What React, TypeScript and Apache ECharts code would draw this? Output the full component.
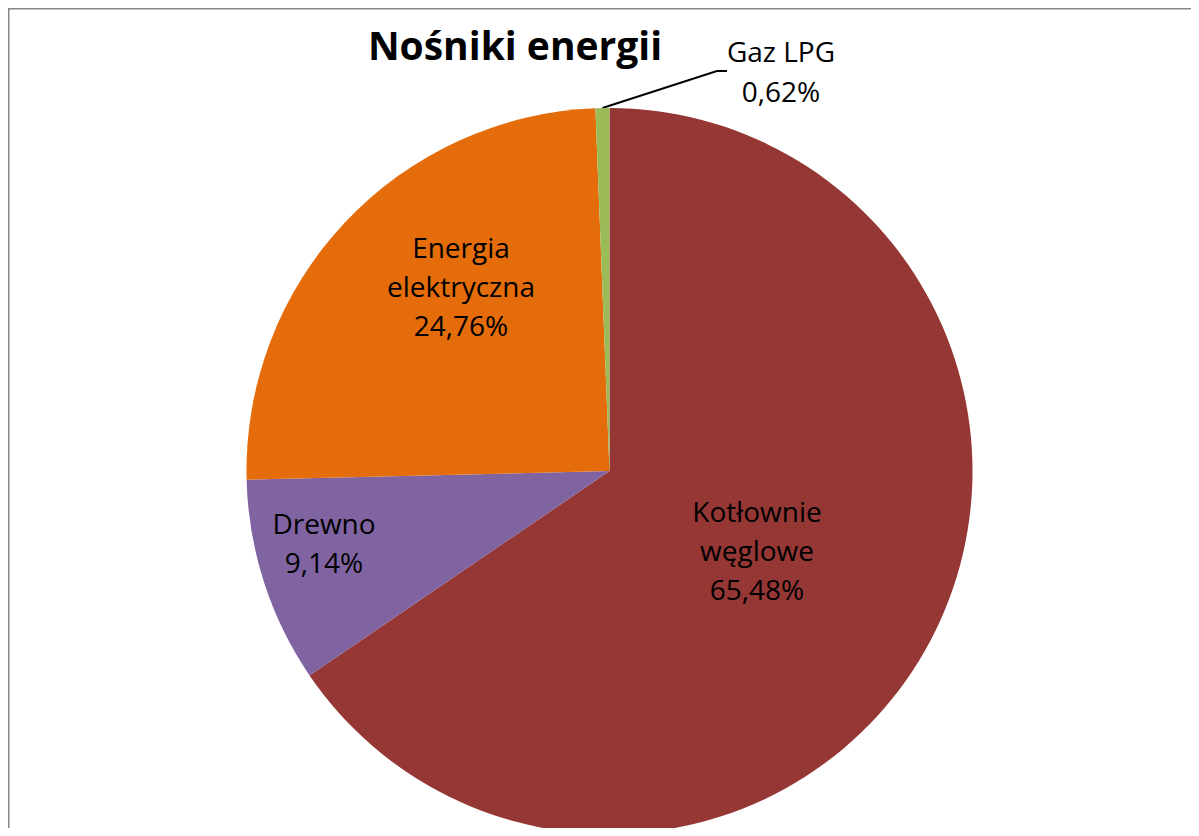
import React, { useEffect, useRef } from "react";
import * as echarts from "echarts";

const categories = ["Kotłownie\nwęglowe", "Drewno", "Energia\nelektryczna", "Gaz LPG"];
const values = [65.48, 9.14, 24.76, 0.62];
const colors = ["#953735", "#8064A2", "#E46C0A", "#9BBB59"];
const labelAnchors = [
  [749, 542],
  [316, 534],
  [453, 278],
  [773, 63],
];

export default function App() {
  const ref = useRef<HTMLDivElement>(null);
  useEffect(() => {
    if (!ref.current) return;
    const chart = echarts.init(ref.current, null, { renderer: "svg" });
    const font = "'Open Sans', Lato, sans-serif";
    chart.setOption({
      animation: false,
      backgroundColor: "#ffffff",
      title: {
        text: "Nośniki energii",
        left: 502,
        top: 12,
        textAlign: "center",
        textStyle: { fontFamily: font, fontWeight: "bold", fontSize: 39, color: "#000" },
      },
      graphic: [
        {
          type: "rect",
          shape: { x: 0.5, y: 0.5, width: 3000, height: 3000 },
          style: { fill: "none", stroke: "#878787", lineWidth: 2 },
          z: 100,
        },
      ],
      series: [
        {
          type: "pie",
          center: [601.5, 463],
          radius: [0, 363],
          startAngle: 90,
          clockwise: true,
          avoidLabelOverlap: false,
          itemStyle: { borderWidth: 0 },
          label: {
            show: true,
            position: "inside",
            fontFamily: font,
            fontSize: 28,
            lineHeight: 39,
            color: "#000",
            align: "center",
            formatter: (p: any) =>
              p.name + "\n" + p.value.toFixed(2).replace(".", ",") + "%",
          },
          labelLine: { show: false },
          labelLayout: (p: any) => {
            const a = labelAnchors[p.dataIndex];
            return { x: a[0], y: a[1], align: "center", verticalAlign: "middle" };
          },
          data: categories.map((c, i) => ({
            name: c,
            value: values[i],
            itemStyle: { color: colors[i] },
            label: i === 3 ? { position: "outside", fontSize: 28, lineHeight: 40, color: "#000" } : undefined,
            labelLine:
              i === 3
                ? { show: true, lineStyle: { color: "#000", width: 2 }, length: 20, length2: 10 }
                : undefined,
          })),
        },
      ],
    });
    return () => chart.dispose();
  }, []);
  return <div ref={ref} style={{ width: 1191, height: 820 }} />;
}
